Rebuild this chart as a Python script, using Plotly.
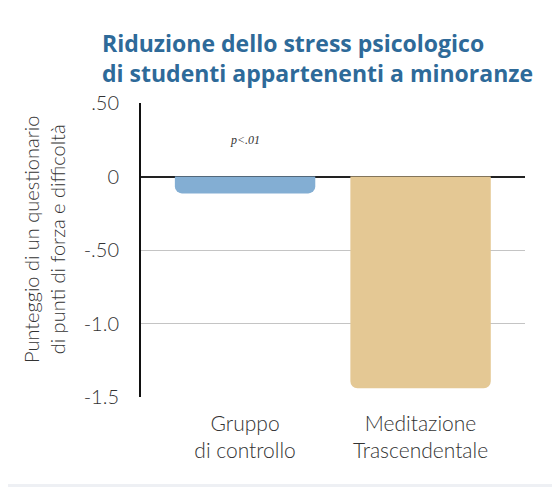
import plotly.graph_objects as go

categories = ["Gruppo<br>di controllo", "Meditazione<br>Trascendentale"]
values = [-0.115, -1.44]
bar_colors = ["#83aed3", "#e4c894"]
tick_vals = [0.5, 0, -0.5, -1.0, -1.5]
tick_text = [".50", "0", "-.50", "-1.0", "-1.5"]
title_text = "Riduzione dello stress psicologico<br>di studenti appartenenti a minoranze"
y_title = "Punteggio di un questionario<br>di punti di forza e difficoltà"
p_note = "p<.01"

OFF = 8  # page body margin
W, H = 560 - OFF, 487 - OFF
L, R, T, B = 141 - OFF, 525 - OFF, 103 - OFF, 397 - OFF

fig = go.Figure()
fig.add_trace(go.Bar(
    x=[0, 1], y=values,
    width=0.8,
    marker=dict(color=bar_colors, line=dict(width=0), cornerradius=7),
    hoverinfo="skip",
))

fig.update_layout(
    width=W, height=H,
    margin=dict(l=L, r=W - R, t=T, b=H - B, pad=0),
    paper_bgcolor="white", plot_bgcolor="white",
    showlegend=False,
    annotations=[
        dict(text=title_text, xref="paper", yref="paper", x=(100 - OFF - L) / (R - L),
             y=(B - (58 - OFF)) / (B - T), xanchor="left", yanchor="middle", align="left",
             showarrow=False,
             font=dict(family="Open Sans", size=23, color="#2e6a99", weight=700)),
        dict(text=y_title, xref="paper", yref="paper", x=(44 - OFF - L) / (R - L), y=(B - (240 - OFF)) / (B - T),
             textangle=-90, showarrow=False, xanchor="center", yanchor="middle",
             font=dict(family="Lato", size=20, color="#333333", weight=300)),
        dict(text="<i>" + p_note + "</i>", xref="x", yref="paper", x=0, y=(B - (140 - OFF)) / (B - T),
             showarrow=False, xanchor="center", yanchor="middle",
             font=dict(family="Liberation Serif", size=12, color="#333333")),
    ],
    xaxis=dict(
        range=[-0.593, 1.595], tickvals=[0, 1], ticktext=categories,
        showgrid=False, zeroline=False, showline=False, ticks="",
        tickfont=dict(family="Lato", size=21, color="#333333", weight=300),
        ticklabelstandoff=12, fixedrange=True,
    ),
    yaxis=dict(
        range=[-1.5, 0.5], tickvals=tick_vals, ticktext=tick_text,
        showgrid=True, gridcolor="#c4c4c4", gridwidth=1,
        zeroline=True, zerolinecolor="#222222", zerolinewidth=2,
        showline=True, linecolor="#111111", linewidth=2,
        ticks="", tickfont=dict(family="Lato", size=20, color="#333333", weight=300),
        ticklabelstandoff=16, fixedrange=True,
    ),
    shapes=[
        dict(type="rect", xref="paper", yref="paper",
             x0=-L / (R - L), x1=(W - L) / (R - L),
             y0=(B - (487 - OFF)) / (B - T), y1=(B - (484 - OFF)) / (B - T),
             fillcolor="#eef0f4", line=dict(width=0), layer="below"),
    ],
)

fig.write_html("out.html", config={"displayModeBar": False})
